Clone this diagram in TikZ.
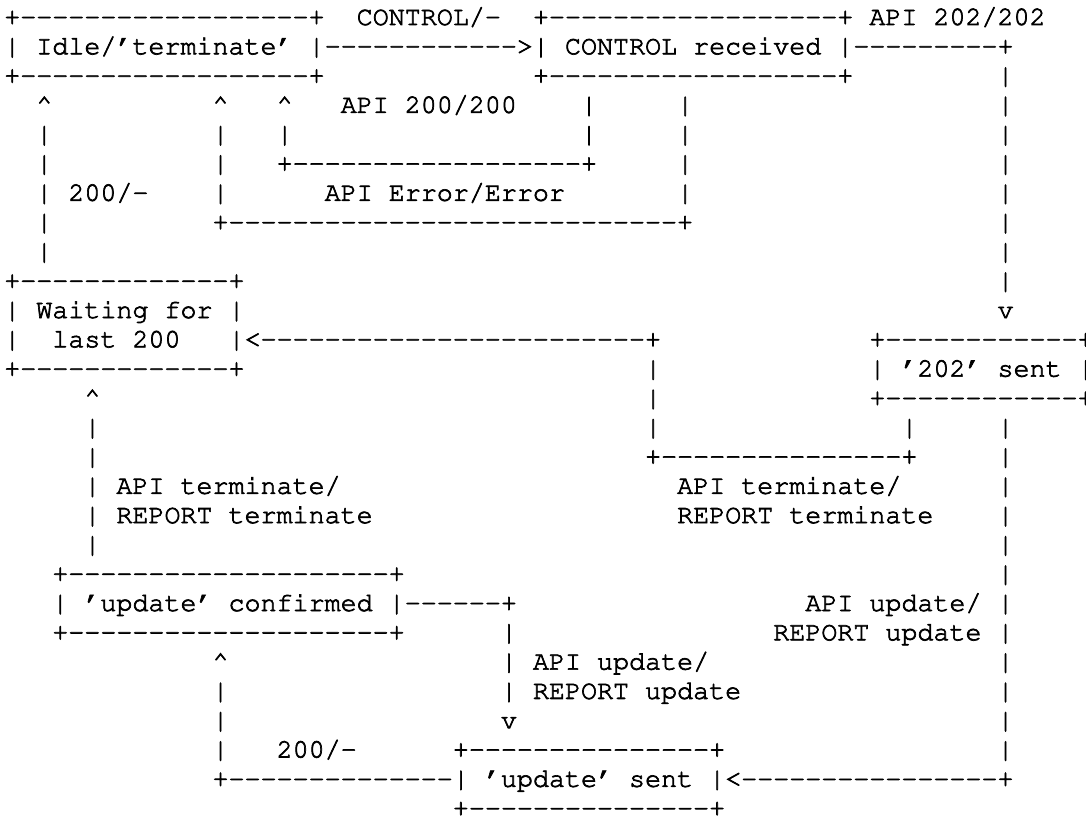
\documentclass[tikz,border=0pt]{standalone}
\usepackage[T1,TU]{fontenc}
\newcommand\asciifont{\fontencoding{T1}\fontfamily{pcr}\fontseries{m}\fontshape{n}\fontsize{20.02}{21.98}\selectfont
  \special{pdf:literal direct 2 Tr 0.5 w}}
\newcommand\caretch{\textasciicircum}
\newcommand\dashrun[1]{\foreach \i in {1,...,#1}{-}}
\tikzset{
  txt/.style={inner sep=0pt, outer sep=0pt, anchor=base west, font=\asciifont},
}

\begin{document}
\begin{tikzpicture}[x=12.015pt,y=-21.975pt]
    \useasboundingbox (-0.268,-0.853) rectangle (67.52,27.1);

    % Idle and CONTROL received
    \node[txt] (idle-t) at (0,0) {+\dashrun{18}+};
    \node[txt] (idle)   at (0,1) {| Idle/'terminate' |};
    \node[txt] (idle-b) at (0,2) {+\dashrun{18}+};
    \node[txt] (recv-t) at (33,0) {+\dashrun{18}+};
    \node[txt] (recv)   at (33,1) {| CONTROL received |};
    \node[txt] (recv-b) at (33,2) {+\dashrun{18}+};
    \node[txt] (lbl-ctl) at (22,0) {CONTROL/-};
    \node[txt] (e-ctl)   at (20,1) {\dashrun{12}>};
    \node[txt] (lbl-202) at (54,0) {API 202/202};
    \node[txt] (e-202)   at (53,1) {\dashrun{9}+};

    % arrows back to Idle
    \node[txt] (up-a) at (2,3) {\caretch};
    \node[txt] (up-b) at (13,3) {\caretch};
    \node[txt] (up-c) at (17,3) {\caretch};
    \node[txt] (lbl-200) at (21,3) {API 200/200};
    \node[txt] (e-200)   at (17,5) {+\dashrun{18}+};
    \node[txt] (lbl-fin) at (4,6) {200/-};
    \node[txt] (lbl-err) at (20,6) {API Error/Error};
    \node[txt] (e-err)   at (13,7) {+\dashrun{28}+};

    % Waiting for last 200 and '202' sent
    \node[txt] (wait-t) at (0,9) {+\dashrun{13}+};
    \node[txt] (wait)   at (0,10) {| Waiting for |};
    \node[txt] (wait-l) at (0,11) {|};
    \node[txt] (wait-m) at (3,11) {last 200};
    \node[txt] (wait-r) at (14,11) {|};
    \node[txt] (wait-b) at (0,12) {+\dashrun{13}+};
    \node[txt] (dn-a)   at (62,10) {v};
    \node[txt] (e-term) at (15,11) {<\dashrun{24}+};
    \node[txt] (sent-t) at (54,11) {+\dashrun{12}+};
    \node[txt] (sent)   at (54,12) {| '202' sent |};
    \node[txt] (sent-b) at (54,13) {+\dashrun{12}+};
    \node[txt] (up-d)   at (5,13) {\caretch};
    \node[txt] (e-term2) at (40,15) {+\dashrun{15}+};
    \node[txt] (lbl-t1a) at (7,16) {API terminate/};
    \node[txt] (lbl-t1b) at (7,17) {REPORT terminate};
    \node[txt] (lbl-t2a) at (42,16) {API terminate/};
    \node[txt] (lbl-t2b) at (42,17) {REPORT terminate};

    % 'update' confirmed and 'update' sent
    \node[txt] (conf-t) at (3,19) {+\dashrun{20}+};
    \node[txt] (conf)   at (3,20) {| 'update' confirmed |};
    \node[txt] (conf-b) at (3,21) {+\dashrun{20}+};
    \node[txt] (e-upd1) at (25,20) {\dashrun{6}+};
    \node[txt] (lbl-u1a) at (50,20) {API update/};
    \node[txt] (lbl-u1b) at (48,21) {REPORT update};
    \node[txt] (up-e)   at (13,22) {\caretch};
    \node[txt] (lbl-u2a) at (33,22) {API update/};
    \node[txt] (lbl-u2b) at (33,23) {REPORT update};
    \node[txt] (dn-b)   at (31,24) {v};
    \node[txt] (lbl-fin2) at (17,25) {200/-};
    \node[txt] (usent-t) at (28,25) {+\dashrun{15}+};
    \node[txt] (e-fin)   at (13,26) {+\dashrun{14}};
    \node[txt] (usent)   at (28,26) {| 'update' sent |};
    \node[txt] (e-upd2)  at (45,26) {<\dashrun{16}+};
    \node[txt] (usent-b) at (28,27) {+\dashrun{15}+};

    % vertical runs: column/first row/last row
    \foreach \c/\a/\b in {2/4/8, 13/4/6, 17/4/4, 36/3/4, 42/3/6, 62/2/9, 40/12/14,
                          56/14/14, 5/14/18, 62/14/25, 31/21/23, 13/23/25}
        \foreach \r in {\a,...,\b}
            \node[txt] (bar-\c-\r) at (\c,\r) {|};
\end{tikzpicture}
\end{document}
